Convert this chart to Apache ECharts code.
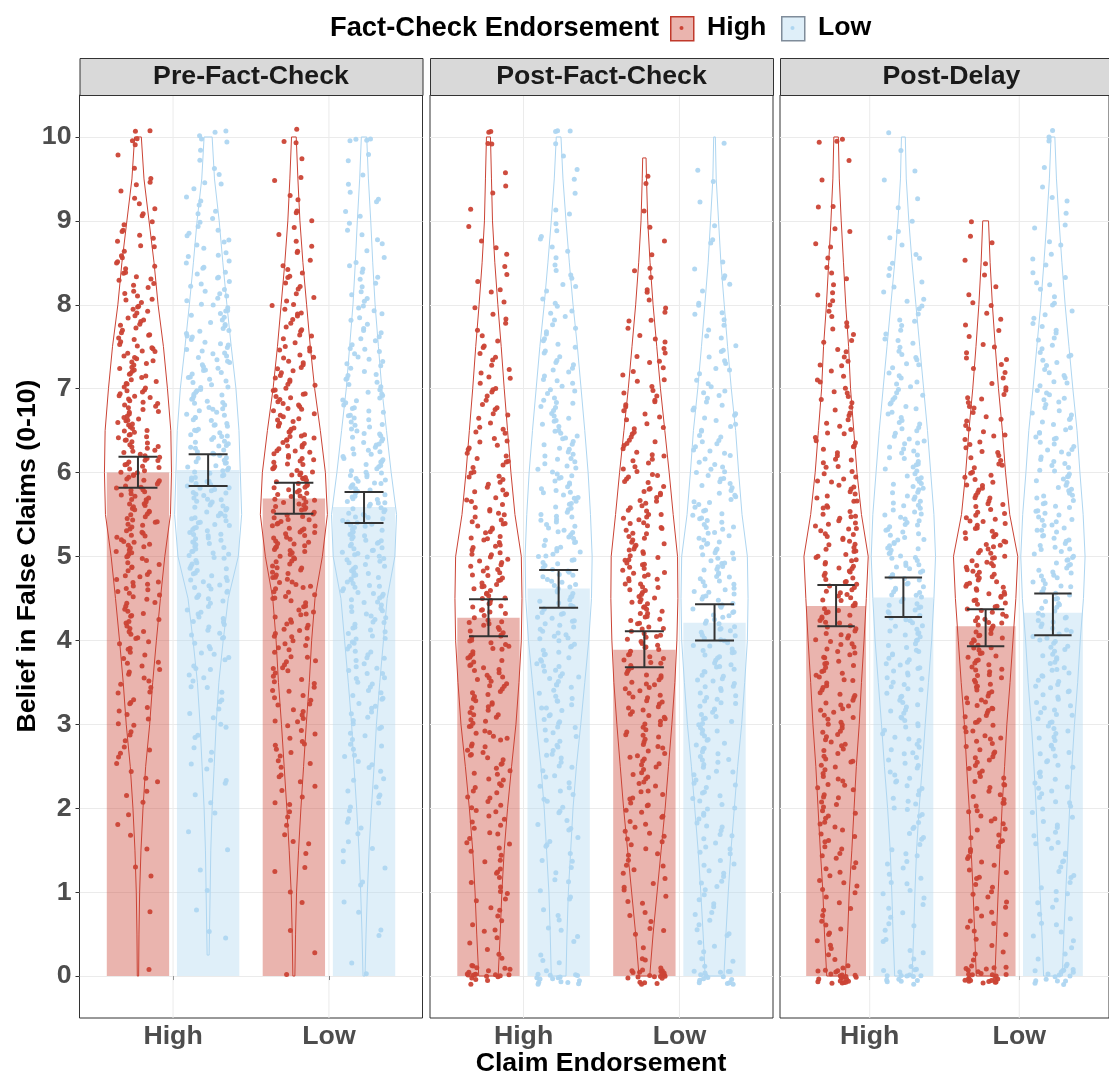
<!DOCTYPE html>
<html><head><meta charset="utf-8">
<script src="https://cdn.jsdelivr.net/npm/echarts@6/dist/echarts.min.js"></script>
<style>html,body{margin:0;padding:0;background:#fff}#chart{width:1109px;height:1074px}</style>
</head><body><div id="chart"></div>
<script>
// ---------------- data ----------------
const panelNames = ['Pre-Fact-Check', 'Post-Fact-Check', 'Post-Delay'];
const claimLevels = ['High', 'Low'];          // x categories (Claim Endorsement)
const factCheckLevels = ['High', 'Low'];      // fill groups (Fact-Check Endorsement)
const yTickValues = [0, 1, 2, 3, 4, 5, 6, 7, 8, 9, 10];
const xTickValues = [1, 2];

// group order in every panel: [claim High/fc High, claim High/fc Low, claim Low/fc High, claim Low/fc Low]
const meanPre   = [6.00, 6.03, 5.69, 5.59];
const meanPost  = [4.27, 4.62, 3.89, 4.21];
const meanDelay = [4.41, 4.51, 4.17, 4.33];
const ciLowPre    = [5.82, 5.84, 5.51, 5.40];
const ciHighPre   = [6.19, 6.22, 5.88, 5.77];
const ciLowPost   = [4.05, 4.39, 3.68, 4.00];
const ciHighPost  = [4.49, 4.84, 4.11, 4.43];
const ciLowDelay  = [4.17, 4.28, 3.93, 4.06];
const ciHighDelay = [4.66, 4.75, 4.37, 4.56];

// violin relative widths at levels 0, 0.5, ..., 10
const violinLevels = [0, 0.5, 1, 1.5, 2, 2.5, 3, 3.5, 4, 4.5, 5, 5.5, 6, 6.5, 7, 7.5, 8, 8.5, 9, 9.5, 10];
const violinPreHH = [.02,.03,.05,.09,.15,.23,.35,.44,.55,.67,.80,.97,1.0,.98,.88,.76,.60,.48,.33,.18,.10];
const violinPreHL = [.03,.04,.06,.08,.12,.18,.24,.32,.45,.60,.90,1.0,.96,.92,.83,.69,.56,.44,.33,.19,.12];
const violinPreLH = [.03,.05,.08,.14,.21,.29,.37,.46,.53,.63,.85,1.0,.94,.79,.62,.49,.38,.27,.18,.12,.07];
const violinPreLL = [.03,.06,.10,.15,.22,.30,.37,.47,.58,.69,.92,.97,.81,.67,.53,.43,.33,.26,.20,.13,.08];
const violinPostHH = [.29,.35,.40,.47,.57,.69,.82,.91,.98,1.0,.98,.79,.67,.57,.47,.38,.28,.19,.12,.09,.06];
const violinPostHL = [.22,.25,.29,.36,.43,.53,.66,.78,.90,.98,1.0,.95,.88,.78,.67,.56,.43,.32,.22,.13,.07];
const violinPostLH = [.16,.26,.38,.50,.62,.72,.82,.91,.97,1.0,.99,.86,.74,.61,.48,.37,.26,.17,.10,.064,.05];
const violinPostLL = [.28,.34,.41,.49,.59,.69,.81,.90,.98,1.0,.98,.82,.72,.63,.50,.39,.29,.19,.12,.05,.025];
const violinDelayHH = [.29,.36,.41,.49,.56,.63,.72,.79,.87,.94,1.0,.79,.65,.55,.45,.39,.30,.23,.16,.10,.07];
const violinDelayHL = [.27,.32,.36,.41,.49,.59,.68,.78,.88,.95,1.0,.95,.85,.75,.63,.51,.39,.27,.17,.09,.06];
const violinDelayLH = [.29,.34,.39,.45,.51,.59,.66,.76,.85,.94,1.0,.75,.62,.52,.40,.30,.21,.14,.09,null,null];
const violinDelayLL = [.29,.34,.40,.46,.52,.59,.67,.77,.85,.95,1.0,.94,.84,.75,.62,.50,.38,.28,.19,.11,.06];
const violinMinPre = [0, 0.25, 0, 0];
const violinMaxPre = [10, 10, 10, 10];
const violinMinPost = [0, 0, 0, 0];
const violinMaxPost = [10, 10, 9.75, 10];
const violinMinDelay = [0, 0, 0, 0];
const violinMaxDelay = [10, 10, 9, 10];

// raw responses, counted per 0.5-wide bin [0-0.5), [0.5-1), ... [9.5-10]
const countsPreHH = [1,1,2,4,6,9,12,15,19,23,28,31,31,29,26,21,17,13,8,4];
const countsPreHL = [1,2,2,3,5,7,9,13,18,25,32,33,31,29,25,21,17,13,9,5];
const countsPreLH = [1,2,4,6,9,12,15,18,21,26,33,34,31,25,20,15,12,8,5,3];
const countsPreLL = [2,3,5,7,10,12,15,19,23,29,34,32,27,22,18,14,11,8,6,4];
const countsPostHH = [8,10,11,13,16,19,22,24,25,25,23,19,16,13,11,8,6,4,3,2];
const countsPostHL = [6,7,8,10,12,15,18,21,24,25,24,23,21,18,15,12,9,7,4,3];
const countsPostLH = [5,8,11,14,17,20,22,24,25,26,24,21,17,14,11,8,6,3,2,1];
const countsPostLL = [8,10,12,14,16,19,22,24,25,25,23,20,17,15,11,9,6,4,2,1];
const countsDelayHH = [9,10,12,14,16,18,20,22,24,25,24,19,16,13,11,9,7,5,3,2];
const countsDelayHL = [7,9,10,11,14,16,18,21,23,25,25,23,20,17,14,11,8,6,3,2];
const countsDelayLH = [9,11,12,14,16,18,21,23,26,28,25,20,16,13,10,7,5,4,0,0];
const countsDelayLL = [8,9,11,12,14,16,18,20,22,24,24,22,20,17,14,11,8,6,4,2];
// responses exactly at 0 and exactly at 10
const atZeroPre = [0, 0, 1, 1];
const atTenPre = [4, 4, 2, 3];
const atZeroPost = [18, 15, 20, 15];
const atTenPost = [3, 3, 0, 1];
const atZeroDelay = [20, 15, 22, 15];
const atTenDelay = [2, 1, 0, 2];

// ---------------- layout & style ----------------
const FONT = 'Liberation Sans, Arial, sans-serif';
const FS = 26.7;
const red = '#CB4335', blue = '#AED6F1';
const pointColors = [red, blue];
const barFills = ['rgba(203,67,53,0.4)', 'rgba(174,214,241,0.4)'];
const gridLeft = [79.5, 430, 780];
const gridTop = 95, gridW = 343, gridH = 923;
const dodge = [-0.225, 0.225];
const barHalf = 0.2, violinHalf = 0.215, jitterHalf = 0.14, jitterHeight = 0.1, capHalf = 0.125;
const binWidth = 0.5;

const panels = [
  { mean: meanPre, lo: ciLowPre, hi: ciHighPre,
    violins: [violinPreHH, violinPreHL, violinPreLH, violinPreLL], vmin: violinMinPre, vmax: violinMaxPre,
    counts: [countsPreHH, countsPreHL, countsPreLH, countsPreLL], zero: atZeroPre, ten: atTenPre },
  { mean: meanPost, lo: ciLowPost, hi: ciHighPost,
    violins: [violinPostHH, violinPostHL, violinPostLH, violinPostLL], vmin: violinMinPost, vmax: violinMaxPost,
    counts: [countsPostHH, countsPostHL, countsPostLH, countsPostLL], zero: atZeroPost, ten: atTenPost },
  { mean: meanDelay, lo: ciLowDelay, hi: ciHighDelay,
    violins: [violinDelayHH, violinDelayHL, violinDelayLH, violinDelayLL], vmin: violinMinDelay, vmax: violinMaxDelay,
    counts: [countsDelayHH, countsDelayHL, countsDelayLH, countsDelayLL], zero: atZeroDelay, ten: atTenDelay }
];

function xCenter(g) { return Math.floor(g / 2) + 1 + dodge[g % 2]; }
// deterministic integer hash -> [0,1) used only for jitter offsets (like geom_jitter)
function hash01(n) {
  n = (n ^ 61) ^ (n >>> 16);
  n = (n + (n << 3)) | 0;
  n = n ^ (n >>> 4);
  n = Math.imul(n, 0x27d4eb2d);
  n = n ^ (n >>> 15);
  return (n >>> 0) / 4294967296;
}

function jitterPoints(p, pi, g) {
  const out = [];
  const xc = xCenter(g);
  let n = (pi * 4 + g) * 5000;
  const jx = () => xc + (2 * hash01(n++) - 1) * jitterHalf;
  for (let j = 0; j < p.zero[g]; j++) out.push([jx(), (2 * hash01(n++) - 1) * jitterHeight]);
  p.counts[g].forEach((c, b) => {
    const lo = Math.max(b * binWidth, p.vmin[g]);
    const hi = Math.min(b * binWidth + binWidth, p.vmax[g]);
    for (let j = 0; j < c; j++) out.push([jx(), lo + (j + hash01(n++)) / c * (hi - lo)]);
  });
  for (let j = 0; j < p.ten[g]; j++) out.push([jx(), 10 + (2 * hash01(n++) - 1) * jitterHeight]);
  return out;
}

const grids = [], xAxes = [], yAxes = [], series = [];
panels.forEach((p, i) => {
  grids.push({ left: gridLeft[i], top: gridTop, width: gridW, height: gridH, show: true,
    borderColor: '#333333', borderWidth: 1, backgroundColor: 'transparent' });
  xAxes.push({ gridIndex: i, type: 'value', min: 0.4, max: 2.6,
    axisLine: { show: false }, splitLine: { show: false },
    axisTick: { show: true, customValues: xTickValues, length: 4, lineStyle: { color: '#333333' } },
    axisLabel: { show: true, customValues: xTickValues, margin: 5,
      formatter: v => claimLevels[Math.round(v) - 1] || '',
      fontFamily: FONT, fontSize: FS, fontWeight: 'bold', color: '#4D4D4D' } });
  yAxes.push({ gridIndex: i, type: 'value', min: -0.5, max: 10.5, interval: 0.5,
    axisLine: { show: false },
    splitLine: { show: true, lineStyle: { color: '#EBEBEB', width: 1 } },
    axisTick: { show: i === 0, customValues: yTickValues, length: 4, lineStyle: { color: '#333333' } },
    axisLabel: { show: i === 0, customValues: yTickValues, margin: 8,
      fontFamily: FONT, fontSize: FS, fontWeight: 'bold', color: '#4D4D4D' } });

  // vertical major grid lines at the categories
  series.push({ type: 'custom', xAxisIndex: i, yAxisIndex: i, z: 1, silent: true,
    data: xTickValues.map(v => [v]),
    renderItem: (params, api) => {
      const v = api.value(0);
      const a = api.coord([v, -0.5]), b = api.coord([v, 10.5]);
      return { type: 'line', shape: { x1: a[0], y1: a[1], x2: b[0], y2: b[1] }, style: { stroke: '#EBEBEB', lineWidth: 1 } };
    } });
  // mean bars
  series.push({ type: 'custom', xAxisIndex: i, yAxisIndex: i, z: 2, silent: true,
    data: p.mean.map((m, g) => [g, m]),
    renderItem: (params, api) => {
      const g = api.value(0), m = api.value(1), xc = xCenter(g);
      const a = api.coord([xc - barHalf, m]), b = api.coord([xc + barHalf, 0]);
      return { type: 'rect', shape: { x: a[0], y: a[1], width: b[0] - a[0], height: b[1] - a[1] }, style: { fill: barFills[g % 2] } };
    } });
  // violins
  series.push({ type: 'custom', xAxisIndex: i, yAxisIndex: i, z: 3, silent: true,
    data: [[0], [1], [2], [3]],
    renderItem: (params, api) => {
      const g = api.value(0), xc = xCenter(g), w = p.violins[g];
      const left = [], right = [];
      violinLevels.forEach((lv, k) => {
        if (w[k] == null) return;
        const y = Math.min(Math.max(lv, p.vmin[g]), p.vmax[g]);
        left.push(api.coord([xc - w[k] * violinHalf, y]));
        right.push(api.coord([xc + w[k] * violinHalf, y]));
      });
      return { type: 'polygon', shape: { points: left.concat(right.reverse()) },
        style: { fill: 'none', stroke: pointColors[g % 2], lineWidth: 1 } };
    } });
  // jittered raw points
  [0, 1].forEach(fc => {
    let pts = [];
    [fc, fc + 2].forEach(g => { pts = pts.concat(jitterPoints(p, i, g)); });
    series.push({ type: 'scatter', name: factCheckLevels[fc], xAxisIndex: i, yAxisIndex: i, z: 4, silent: true,
      symbol: 'circle', symbolSize: 5, data: pts, itemStyle: { color: pointColors[fc], opacity: 0.95 } });
  });
  // error bars
  series.push({ type: 'custom', xAxisIndex: i, yAxisIndex: i, z: 5, silent: true,
    data: p.mean.map((m, g) => [g, p.lo[g], p.hi[g]]),
    renderItem: (params, api) => {
      const g = api.value(0), lo = api.value(1), hi = api.value(2), xc = xCenter(g);
      const a = api.coord([xc, lo]), b = api.coord([xc, hi]);
      const l1 = api.coord([xc - capHalf, lo]), r1 = api.coord([xc + capHalf, lo]);
      const l2 = api.coord([xc - capHalf, hi]), r2 = api.coord([xc + capHalf, hi]);
      const st = { stroke: '#333333', lineWidth: 2 };
      return { type: 'group', children: [
        { type: 'line', shape: { x1: a[0], y1: a[1], x2: b[0], y2: b[1] }, style: st },
        { type: 'line', shape: { x1: l1[0], y1: l1[1], x2: r1[0], y2: r1[1] }, style: st },
        { type: 'line', shape: { x1: l2[0], y1: l2[1], x2: r2[0], y2: r2[1] }, style: st }
      ] };
    } });
});

// strips, titles, legend
const graphics = [];
panelNames.forEach((nm, i) => {
  graphics.push({ type: 'rect', left: gridLeft[i], top: 58, shape: { width: gridW, height: 37 },
    style: { fill: '#D9D9D9', stroke: '#333333', lineWidth: 1 }, z: 10 });
  graphics.push({ type: 'text', x: gridLeft[i] + gridW / 2, y: 77, z: 11,
    style: { text: nm, fontFamily: FONT, fontSize: FS, fontWeight: 'bold', fill: '#1A1A1A', align: 'center', verticalAlign: 'middle' } });
});
graphics.push({ type: 'text', x: 28, y: 556, rotation: Math.PI / 2, z: 11,
  style: { text: 'Belief in False Claims (0-10)', fontFamily: FONT, fontSize: FS, fontWeight: 'bold', fill: '#000000', align: 'center', verticalAlign: 'middle' } });
graphics.push({ type: 'text', x: 601, y: 1064, z: 11,
  style: { text: 'Claim Endorsement', fontFamily: FONT, fontSize: FS, fontWeight: 'bold', fill: '#000000', align: 'center', verticalAlign: 'middle' } });
graphics.push({ type: 'text', x: 330, y: 28, z: 11,
  style: { text: 'Fact-Check Endorsement', fontFamily: FONT, fontSize: 27.3, fontWeight: 'bold', fill: '#000000', align: 'left', verticalAlign: 'middle' } });
const keyX = [670, 781], keyTextX = [707, 818], keyBorders = ['#C0392B', '#7F8C9A'];
factCheckLevels.forEach((lv, k) => {
  graphics.push({ type: 'rect', left: keyX[k], top: 16, shape: { width: 23, height: 24 },
    style: { fill: barFills[k], stroke: keyBorders[k], lineWidth: 1.5 }, z: 11 });
  graphics.push({ type: 'circle', shape: { cx: keyX[k] + 11.5, cy: 28, r: 2 }, style: { fill: pointColors[k] }, z: 12 });
  graphics.push({ type: 'text', x: keyTextX[k], y: 28, z: 11,
    style: { text: lv, fontFamily: FONT, fontSize: FS, fontWeight: 'bold', fill: '#000000', align: 'left', verticalAlign: 'middle' } });
});

const chart = echarts.init(document.getElementById('chart'), null, { renderer: 'canvas' });
chart.setOption({
  animation: false,
  backgroundColor: '#FFFFFF',
  grid: grids, xAxis: xAxes, yAxis: yAxes, series: series,
  graphic: graphics
});
</script></body></html>
